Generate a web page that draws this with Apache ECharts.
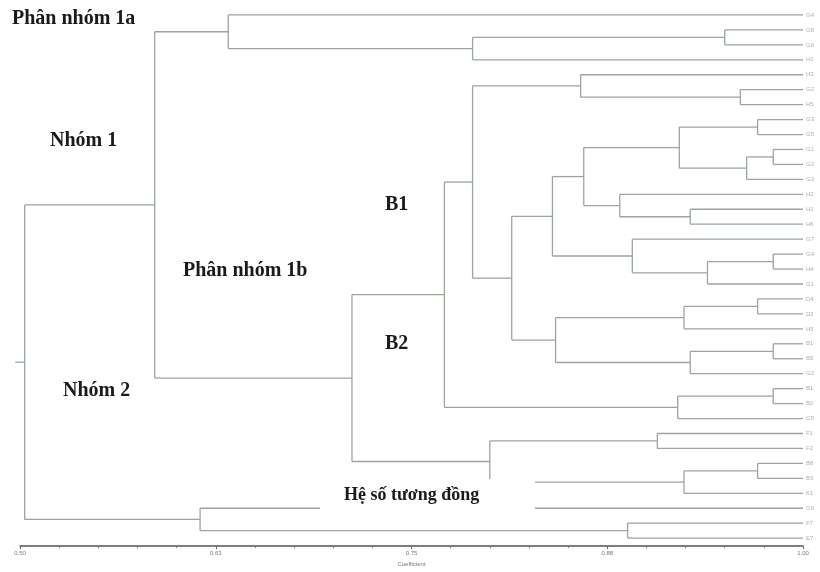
<!DOCTYPE html>
<html><head><meta charset="utf-8">
<script src="https://cdn.jsdelivr.net/npm/echarts@6/dist/echarts.min.js"></script>
<style>html,body{margin:0;padding:0;background:#fff}#c{width:820px;height:572px}</style>
</head><body><div id="c"></div>
<script>
// leaf labels (top to bottom)
var leafLabels = ["G4","G8","G6","H1","H3","G2","H5","G3","G5","G1","G2","G3","H2","H1","H6","G7","G4","H4","G1","D4","D2","H5","B1","B5","G2","B1","B2","G5","F1","F2","B8","B3","K1","G6","F7","E7"];
// merges: child A, child B (leaf index or 36+k for k-th merge), similarity coefficient
var mergeA = [1,36,0,5,4,7,9,42,41,13,12,44,16,48,15,47,19,52,22,54,53,51,40,25,59,58,28,30,63,62,61,38,34,33,67];
var mergeB = [2,3,37,6,39,8,10,11,43,14,45,46,17,18,49,50,20,21,23,24,55,56,57,26,27,60,29,31,32,64,65,66,35,68,69];
var mergeH = [0.950,0.789,0.633,0.960,0.858,0.971,0.981,0.964,0.921,0.928,0.883,0.860,0.981,0.939,0.891,0.840,0.971,0.924,0.981,0.928,0.842,0.814,0.789,0.981,0.920,0.771,0.907,0.971,0.924,0.800,0.712,0.586,0.888,0.615,0.503];
var axisTicks = [0.50,0.625,0.75,0.875,1.00];

var n = leafLabels.length;
var ys = [], hs = [];
for (var i=0;i<n;i++){ ys.push(i); hs.push(1.0); }
var segs = [];
for (var k=0;k<mergeA.length;k++){
  var a=mergeA[k], b=mergeB[k], h=mergeH[k];
  segs.push([h, ys[a], h, ys[b]]);
  segs.push([h, ys[a], hs[a], ys[a]]);
  segs.push([h, ys[b], hs[b], ys[b]]);
  ys.push((ys[a]+ys[b])/2); hs.push(h);
}
var root = ys.length-1;
segs.push([0.497, ys[root], hs[root], ys[root]]);

var leafPts = leafLabels.map(function(l,i){return [1.0,i,l];});

var chart = echarts.init(document.getElementById('c'));
var serif = '"Liberation Serif","DejaVu Serif",serif';
var ann = [
  {t:"Phân nhóm 1a", x:12, y:20},
  {t:"Nhóm 1", x:50, y:142},
  {t:"B1", x:385, y:206},
  {t:"Phân nhóm 1b", x:183, y:272},
  {t:"B2", x:385, y:345},
  {t:"Nhóm 2", x:63, y:392}
];
var graphics = ann.map(function(a){return {type:'text', left:a.x, top:a.y-11, z:100,
  style:{text:a.t, font:'bold 20px '+serif, fill:'#1a1a1a'}};});
graphics.push({type:'rect', shape:{x:320,y:479,width:215,height:37}, style:{fill:'#fff'}, z:90});
graphics.push({type:'text', left:344, top:486, z:100, style:{text:'Hệ số tương đồng', font:'bold 18px '+serif, fill:'#1a1a1a'}});

chart.setOption({
  animation:false,
  backgroundColor:'#fff',
  grid:{left:20, right:17, top:0, bottom:24, containLabel:false},
  xAxis:{type:'value', min:0.5, max:1.0, interval:0.125, position:'bottom',
    axisLine:{onZero:false, lineStyle:{color:'#555', width:1.5}},
    axisTick:{show:true, length:3, inside:false, lineStyle:{color:'#666'}},
    minorTick:{show:true, splitNumber:5, length:2, lineStyle:{color:'#777'}},
    splitLine:{show:false},
    axisLabel:{fontSize:6, color:'#777', margin:4, formatter:function(v){return v.toFixed(2);}},
    name:'Coefficient', nameLocation:'middle', nameGap:14, nameTextStyle:{fontSize:6, color:'#777'}},
  yAxis:{type:'value', inverse:true, min:-1, max:35.5333, show:false},
  graphic:graphics,
  series:[
    {type:'custom', data:segs, silent:true,
     renderItem:function(params, api){
       var p1=api.coord([api.value(0),api.value(1)]), p2=api.coord([api.value(2),api.value(3)]);
       return {type:'line', shape:{x1:p1[0],y1:p1[1],x2:p2[0],y2:p2[1]},
         style:{stroke:'#9aa69a', lineWidth:1.3}};
     }},
    {type:'scatter', data:leafPts, symbolSize:0, silent:true,
     label:{show:true, position:'right', distance:3, fontSize:6, color:'#999',
       formatter:function(p){return p.data[2];}}}
  ]
});
</script></body></html>
